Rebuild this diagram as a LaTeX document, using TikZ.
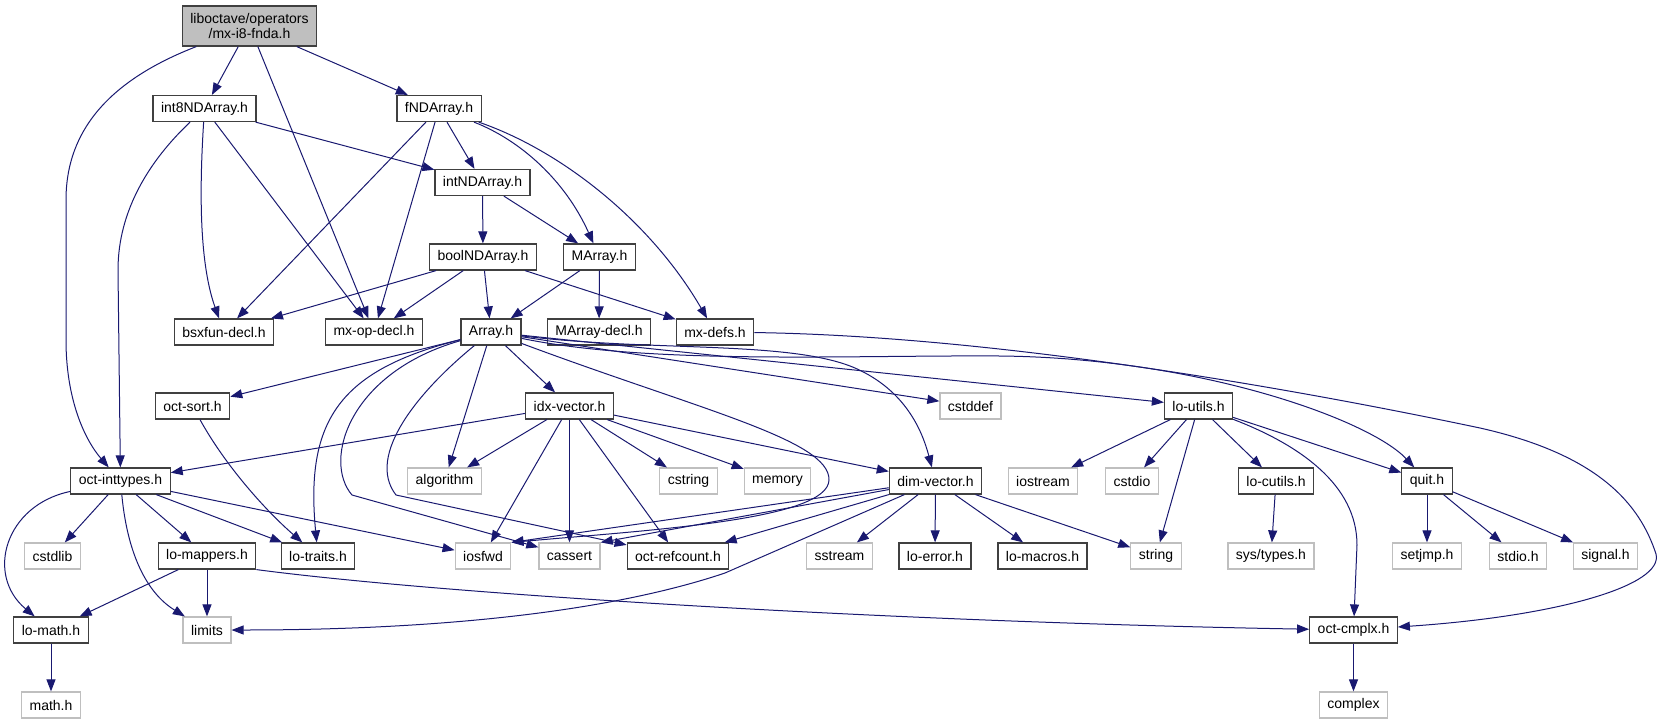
\documentclass[tikz,border=0pt]{standalone}
\usepackage{fontspec}
\setmainfont{Liberation Sans}
\usetikzlibrary{arrows.meta}
\definecolor{edgeblue}{HTML}{191970}
\definecolor{boxgray}{HTML}{BFBFBF}
\definecolor{boxline}{HTML}{404040}

\begin{document}
\begin{tikzpicture}[
		x=0.5pt, y=-0.5pt,
		every node/.style={rectangle, font=\fontsize{7}{7.5}\selectfont, inner xsep=4pt, inner ysep=0pt, minimum height=13pt, line width=0.6pt},
		hdr/.style={draw=boxline, fill=white},
		sys/.style={draw=boxgray, fill=white},
		cur/.style={draw=boxline, fill=boxgray, align=center, minimum height=20pt},
		link/.style={draw=edgeblue, line width=0.5pt, -{Triangle[length=6pt,width=4.5pt]}}
		]
		\useasboundingbox (0,0) rectangle (1662,724);
		\node[cur] (root) at (249.5,26) {liboctave/operators\\/mx-i8-fnda.h};
		\node[hdr] (int8) at (204.5,108.5) {int8NDArray.h};
		\node[hdr] (fnd) at (439,108.5) {fNDArray.h};
		\node[hdr] (intnd) at (482.5,182.5) {intNDArray.h};
		\node[hdr] (boolnd) at (483,257) {boolNDArray.h};
		\node[hdr] (marray) at (599.5,257) {MArray.h};
		\node[hdr] (bsxfun) at (224,332) {bsxfun-decl.h};
		\node[hdr] (mxop) at (374,332) {mx-op-decl.h};
		\node[hdr] (array) at (491,332) {Array.h};
		\node[hdr] (marraydecl) at (599,332) {MArray-decl.h};
		\node[hdr] (mxdefs) at (715,332) {mx-defs.h};
		\node[hdr] (octsort) at (192.5,406) {oct-sort.h};
		\node[hdr] (idxvec) at (569.5,406) {idx-vector.h};
		\node[sys] (cstddef) at (970.5,406) {cstddef};
		\node[hdr] (loutils) at (1198.5,406) {lo-utils.h};
		\node[hdr] (octint) at (120.5,481) {oct-inttypes.h};
		\node[sys] (algorithm) at (444.5,481) {algorithm};
		\node[sys] (cstring) at (688.5,481) {cstring};
		\node[sys] (memory) at (777.5,481) {memory};
		\node[hdr] (dimvec) at (935.5,481) {dim-vector.h};
		\node[sys] (iostream) at (1043,481) {iostream};
		\node[sys] (cstdio) at (1132,481) {cstdio};
		\node[hdr] (locutils) at (1276,481) {lo-cutils.h};
		\node[hdr] (quit) at (1427,481) {quit.h};
		\node[sys] (cstdlib) at (52.5,556) {cstdlib};
		\node[hdr] (lomappers) at (207,556) {lo-mappers.h};
		\node[hdr] (lotraits) at (318,556) {lo-traits.h};
		\node[sys] (iosfwd) at (483,556) {iosfwd};
		\node[sys] (cassert) at (569.5,556) {cassert};
		\node[hdr] (octref) at (678,556) {oct-refcount.h};
		\node[sys] (sstream) at (839.5,556) {sstream};
		\node[hdr] (loerror) at (935,556) {lo-error.h};
		\node[hdr] (lomacros) at (1042.5,556) {lo-macros.h};
		\node[sys] (string) at (1156,556) {string};
		\node[sys] (systypes) at (1271,556) {sys/types.h};
		\node[sys] (setjmp) at (1427,556) {setjmp.h};
		\node[sys] (stdio) at (1518,556) {stdio.h};
		\node[sys] (signal) at (1605.5,556) {signal.h};
		\node[hdr] (lomath) at (51,630) {lo-math.h};
		\node[sys] (limits) at (207,630) {limits};
		\node[hdr] (octcmplx) at (1353.5,630) {oct-cmplx.h};
		\node[sys] (mathh) at (51,705) {math.h};
		\node[sys] (complex) at (1353.5,705) {complex};

		\draw[link] (root) -- (int8);
		\draw[link] (root) -- (fnd);
		\draw[link] (root) -- (mxop);
		\draw[link] (root) .. controls (110,80) and (66,130) .. (66,200) -- (66,340) .. controls (66,400) and (85,440) .. (octint);
		\draw[link] (int8) -- (intnd);
		\draw[link] (int8) -- (mxop);
		\draw[link] (int8) .. controls (200,180) and (198,260) .. (bsxfun);
		\draw[link] (int8) .. controls (150,160) and (118,210) .. (118,270) -- (octint);
		\draw[link] (fnd) -- (bsxfun);
		\draw[link] (fnd) -- (mxop);
		\draw[link] (fnd) -- (intnd);
		\draw[link] (fnd) .. controls (520,140) and (565,180) .. (marray);
		\draw[link] (fnd) .. controls (560,150) and (650,220) .. (mxdefs);
		\draw[link] (intnd) -- (boolnd);
		\draw[link] (intnd) -- (marray);
		\draw[link] (boolnd) -- (bsxfun);
		\draw[link] (boolnd) -- (mxop);
		\draw[link] (boolnd) -- (array);
		\draw[link] (boolnd) -- (mxdefs);
		\draw[link] (marray) -- (array);
		\draw[link] (marray) -- (marraydecl);
		\draw[link] (mxdefs) .. controls (1000,336) and (1300,390) .. (1480,428) .. controls (1600,455) and (1640,505) .. (1656,554) .. controls (1664,585) and (1560,616) .. (octcmplx);
		\draw[link] (array) -- (octsort);
		\draw[link] (array) -- (algorithm);
		\draw[link] (array) -- (idxvec);
		\draw[link] (array) -- (cstddef);
		\draw[link] (array) -- (loutils);
		\draw[link] (array) .. controls (340,370) and (305,420) .. (lotraits);
		\draw[link] (array) .. controls (350,372) and (322,460) .. (352,495) -- (cassert);
		\draw[link] (array) .. controls (420,390) and (365,455) .. (396,495) -- (octref);
		\draw[link] (array) .. controls (700,410) and (830,440) .. (829,480) .. controls (828,520) and (650,530) .. (iosfwd.north east);
		\draw[link] (array) .. controls (650,352) and (790,340) .. (855,368) .. controls (905,390) and (922,430) .. (dimvec);
		\draw[link] (array) .. controls (650,365) and (850,355) .. (1000,356) .. controls (1200,358) and (1370,420) .. (quit);
		\draw[link] (octsort) .. controls (225,465) and (265,510) .. (lotraits);
		\draw[link] (idxvec) -- (octint);
		\draw[link] (idxvec) -- (algorithm);
		\draw[link] (idxvec) -- (iosfwd);
		\draw[link] (idxvec) -- (cassert);
		\draw[link] (idxvec) -- (octref);
		\draw[link] (idxvec) -- (cstring);
		\draw[link] (idxvec) -- (memory);
		\draw[link] (idxvec) -- (dimvec);
		\draw[link] (octint) .. controls (5,505) and (-15,575) .. (lomath);
		\draw[link] (octint) -- (cstdlib);
		\draw[link] (octint) .. controls (128,560) and (150,595) .. (limits);
		\draw[link] (octint) -- (lomappers);
		\draw[link] (octint) -- (lotraits);
		\draw[link] (octint) -- (iosfwd);
		\draw[link] (lomappers) -- (lomath);
		\draw[link] (lomappers) -- (limits);
		\draw[link] (lomappers.south east) .. controls (450,595) and (900,622) .. (octcmplx);
		\draw[link] (lomath) -- (mathh);
		\draw[link] (dimvec) -- (iosfwd.north east);
		\draw[link] (dimvec) -- (cassert.north east);
		\draw[link] (dimvec) -- (octref);
		\draw[link] (dimvec) -- (725,573) .. controls (600,615) and (420,630) .. (limits);
		\draw[link] (dimvec) -- (sstream);
		\draw[link] (dimvec) -- (loerror);
		\draw[link] (dimvec) -- (lomacros);
		\draw[link] (dimvec) -- (string);
		\draw[link] (loutils) -- (iostream);
		\draw[link] (loutils) -- (cstdio);
		\draw[link] (loutils) -- (string);
		\draw[link] (loutils) -- (locutils);
		\draw[link] (loutils) .. controls (1300,445) and (1357,485) .. (1357,545) -- (octcmplx);
		\draw[link] (loutils) -- (quit);
		\draw[link] (locutils) -- (systypes);
		\draw[link] (quit) -- (setjmp);
		\draw[link] (quit) -- (stdio);
		\draw[link] (quit) -- (signal);
		\draw[link] (octcmplx) -- (complex);
\end{tikzpicture}
\end{document}
